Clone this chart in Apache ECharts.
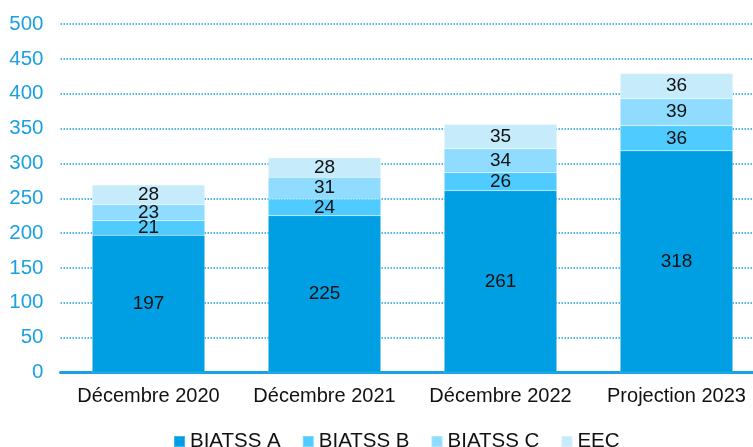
<!DOCTYPE html>
<html>
<head>
<meta charset="utf-8">
<script src="https://cdn.jsdelivr.net/npm/echarts@6/dist/echarts.min.js"></script>
<style>
  html, body { margin: 0; padding: 0; background: #fff; }
  #chart { width: 753px; height: 447px; }
</style>
</head>
<body>
<div id="chart"></div>
<script>
const categories = ['Décembre 2020', 'Décembre 2021', 'Décembre 2022', 'Projection 2023']
const biatssA = [197, 225, 261, 318]
const biatssB = [21, 24, 26, 36]
const biatssC = [23, 31, 34, 39]
const eec = [28, 28, 35, 36]

const seriesNames = ['BIATSS A', 'BIATSS B', 'BIATSS C', 'EEC']
const seriesColors = ['#009fe3', '#4fcbff', '#8fdcff', '#c6ecfc']
const blue = '#1ba1e2'
const font = 'Liberation Sans, Arial, sans-serif'

const chart = echarts.init(document.getElementById('chart'))

function bar(name, data, color) {
  return {
    name,
    type: 'bar',
    stack: 'total',
    data,
    barWidth: '64%',
    itemStyle: { color, borderColor: 'rgba(255,255,255,0.25)', borderWidth: 0.5 },
    label: {
      show: true,
      position: 'inside',
      color: '#111',
      fontFamily: font,
      fontSize: 19
    }
  }
}

chart.setOption({
  animation: false,
  textStyle: { fontFamily: font },
  // the plot runs past the right edge of the picture
  grid: {
    left: 60.5, width: 704, top: 24, bottom: 74.5,
    containLabel: false, outerBoundsMode: 'none'
  },
  legend: {
    left: 173,
    top: 431,
    padding: 0,
    itemWidth: 11,
    itemHeight: 11,
    itemGap: 21,
    icon: 'rect',
    textStyle: { fontSize: 20.5, color: '#111', fontFamily: font },
    data: seriesNames
  },
  xAxis: {
    type: 'category',
    data: categories,
    axisLine: { lineStyle: { color: blue, width: 3 } },
    axisTick: { show: false },
    axisLabel: { color: '#111', fontSize: 20, margin: 14, fontFamily: font, interval: 0 }
  },
  yAxis: {
    type: 'value',
    min: 0,
    max: 500,
    interval: 50,
    axisLine: { show: false },
    axisTick: { show: false },
    axisLabel: { color: blue, fontSize: 20.5, margin: 17, fontFamily: font },
    splitLine: { lineStyle: { color: blue, width: 1.5, type: [1.5, 1.5] } }
  },
  series: [
    bar(seriesNames[0], biatssA, seriesColors[0]),
    bar(seriesNames[1], biatssB, seriesColors[1]),
    bar(seriesNames[2], biatssC, seriesColors[2]),
    bar(seriesNames[3], eec, seriesColors[3])
  ]
})
</script>
</body>
</html>
